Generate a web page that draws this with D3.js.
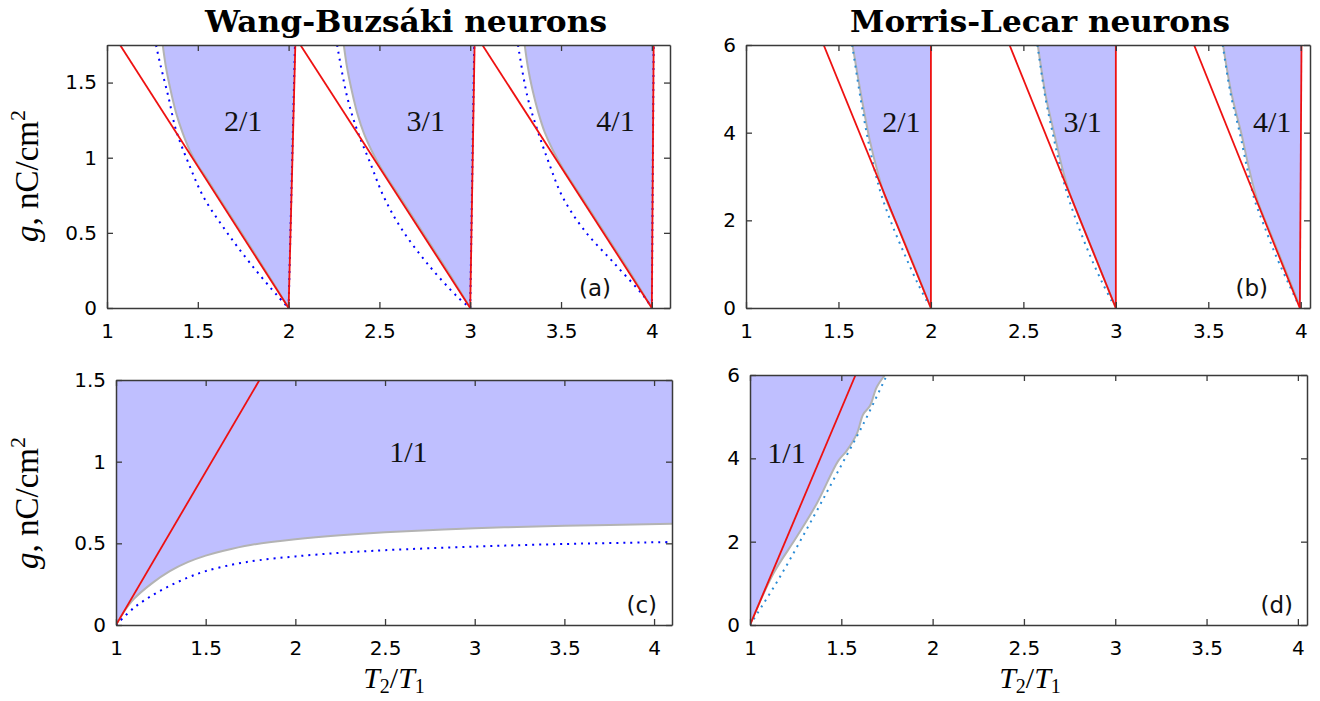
<!DOCTYPE html>
<html><head><meta charset="utf-8">
<script src="https://cdn.jsdelivr.net/npm/d3@7/dist/d3.min.js"></script>
<style>
body{margin:0;background:#fff;}
svg{display:block;}
</style></head>
<body>
<svg id="chart" width="1320" height="701"></svg>
<script>
// ---------- tick values ----------
const xTicks = [1, 1.5, 2, 2.5, 3, 3.5, 4];
const xTickLabels = ["1", "1.5", "2", "2.5", "3", "3.5", "4"];
const wbYTicks = [0, 0.5, 1, 1.5];
const wbYTickLabels = ["0", "0.5", "1", "1.5"];
const mlYTicks = [0, 2, 4, 6];
const mlYTickLabels = ["0", "2", "4", "6"];

// ---------- Wang-Buzsaki, panel (a): [T2/T1, g] ----------
const wb21Left  = [[1.307,1.75],[1.325,1.6],[1.35,1.45],[1.38,1.3],[1.415,1.17],[1.455,1.05],[1.50,0.95],[1.55,0.862],[1.608,0.75],[1.757,0.47],[1.904,0.19],[2.0,0.0]];
const wb21Right = [[2.0,0.0],[2.037,1.75]];
const wb31Left  = [[2.304,1.75],[2.322,1.6],[2.347,1.45],[2.377,1.3],[2.415,1.16],[2.46,1.04],[2.505,0.94],[2.552,0.85],[2.607,0.75],[2.756,0.47],[2.905,0.19],[3.0,0.0]];
const wb31Right = [[3.0,0.0],[3.024,1.75]];
const wb41Left  = [[3.30,1.75],[3.318,1.6],[3.343,1.45],[3.375,1.3],[3.41,1.17],[3.455,1.05],[3.51,0.93],[3.558,0.84],[3.607,0.75],[3.756,0.47],[3.905,0.19],[4.0,0.0]];
const wb41Right = [[4.0,0.0],[4.01,1.75]];
const wbRed = [
  [[1.072,1.75],[2.0,0.0]], [[2.0,0.0],[2.037,1.75]],
  [[2.065,1.75],[3.0,0.0]], [[3.0,0.0],[3.024,1.75]],
  [[3.067,1.75],[4.0,0.0]], [[4.0,0.0],[4.01,1.75]]
];
const wb21BlueL = [[1.27,1.75],[1.292,1.628],[1.338,1.406],[1.38,1.184],[1.449,0.963],[1.531,0.74],[1.651,0.519],[1.789,0.297],[1.943,0.075],[2.0,0.0]];
const wb31BlueL = [[2.267,1.75],[2.322,1.406],[2.377,1.184],[2.45,0.963],[2.524,0.74],[2.62,0.53],[2.763,0.297],[2.929,0.075],[3.0,0.0]];
const wb41BlueL = [[3.263,1.75],[3.315,1.406],[3.37,1.184],[3.434,0.963],[3.508,0.74],[3.627,0.519],[3.793,0.297],[3.958,0.075],[4.0,0.0]];
const wbBlueR = [ [[2.0,0.0],[2.035,1.75]], [[3.0,0.0],[3.022,1.75]], [[4.0,0.0],[4.01,1.75]] ];

// ---------- Morris-Lecar, panel (b) ----------
const ml21Left  = [[1.576,6],[1.624,4.82],[1.669,3.83],[1.714,3.07],[1.752,2.54],[1.853,1.55],[2.0,0.0]];
const ml21Right = [[2.0,0.0],[2.0,6]];
const ml31Left  = [[2.578,6],[2.622,4.82],[2.668,3.96],[2.71,3.2],[2.752,2.6],[2.852,1.55],[3.0,0.0]];
const ml31Right = [[3.0,0.0],[3.0,6]];
const ml41Left  = [[3.58,6],[3.625,4.9],[3.68,3.96],[3.722,3.15],[3.765,2.47],[3.852,1.55],[4.0,0.0]];
const ml41Right = [[4.0,0.0],[4.004,6]];
const mlRed = [
  [[1.42,6],[2.0,0.0]], [[2.0,0.0],[2.0,6]],
  [[2.425,6],[3.0,0.0]], [[3.0,0.0],[3.0,6]],
  [[3.423,6],[3.995,0.0]], [[3.995,0.0],[4.004,6]]
];
const ml21Blue = [[1.574,6],[1.618,4.82],[1.66,3.83],[1.70,3.07],[1.735,2.54],[1.79,1.9],[1.86,1.2],[1.93,0.55],[1.985,0.1]];
const ml31Blue = [[2.576,6],[2.618,4.82],[2.66,3.96],[2.70,3.2],[2.737,2.6],[2.79,1.95],[2.86,1.2],[2.93,0.55],[2.985,0.1]];
const ml41Blue = [[3.578,6],[3.62,4.9],[3.672,3.96],[3.712,3.15],[3.75,2.47],[3.80,1.9],[3.865,1.2],[3.935,0.55],[3.985,0.1]];

// ---------- panel (c): 1/1 WB ----------
const wb11Edge = [[1.0,0.0],[1.05,0.09],[1.1,0.16],[1.2,0.255],[1.3,0.33],[1.4,0.385],[1.5,0.425],[1.6,0.455],[1.75,0.49],[2.0,0.525],[2.25,0.55],[2.5,0.568],[3.0,0.592],[3.5,0.607],[4.1,0.62]];
const wb11Red  = [[1.0,0.0],[1.80,1.5]];
const wb11Blue = [[1.0,0.0],[1.1,0.105],[1.2,0.18],[1.3,0.24],[1.4,0.29],[1.5,0.33],[1.65,0.37],[1.8,0.397],[2.0,0.42],[2.25,0.442],[2.5,0.458],[3.0,0.48],[3.5,0.496],[4.1,0.508]];

// ---------- panel (d): 1/1 ML ----------
const ml11Edge = [[1.0,0.0],[1.128,1.235],[1.255,2.11],[1.365,2.91],[1.483,3.94],[1.529,4.18],[1.584,4.58],[1.62,5.06],[1.657,5.26],[1.693,5.70],[1.739,6]];
const ml11Red  = [[1.0,0.0],[1.578,6]];
const ml11Blue = [[1.0,0.0],[1.164,1.155],[1.347,2.59],[1.475,3.63],[1.62,4.82],[1.742,5.93]];

// ---------- styles ----------
const FILL = "#bfbfff", RED = "#ee1111", GRAY = "#b3b3b3", BLUE = "#0000ff", BLUE2 = "#2b8cd6", AXIS = "#3a3a3a";

const svg = d3.select("#chart");
let clipId = 0;

function makePanel(cfg) {
  const x = d3.scaleLinear().domain(cfg.xd).range([cfg.x0, cfg.x1]);
  const y = d3.scaleLinear().domain(cfg.yd).range([cfg.y1, cfg.y0]);
  const id = "clip" + (clipId++);
  svg.append("clipPath").attr("id", id).append("rect")
    .attr("x", cfg.x0).attr("y", cfg.y0).attr("width", cfg.x1 - cfg.x0).attr("height", cfg.y1 - cfg.y0);
  const g = svg.append("g").attr("clip-path", `url(#${id})`);
  return {x, y, g, cfg};
}

function smooth(p) { return d3.line().x(d => p.x(d[0])).y(d => p.y(d[1])).curve(d3.curveCatmullRom.alpha(0.5)); }
function straight(p) { return d3.line().x(d => p.x(d[0])).y(d => p.y(d[1])); }

function tongue(p, left, right) {
  const d = smooth(p)(left) + straight(p)(right).replace(/^M/, "L") + "Z";
  p.g.append("path").attr("d", d).attr("fill", FILL).attr("stroke", "none");
  p.g.append("path").attr("d", smooth(p)(left)).attr("fill", "none").attr("stroke", GRAY).attr("stroke-width", 2);
}
function dotted(p, pts, color, lin) {
  p.g.append("path").attr("d", (lin ? straight(p) : smooth(p))(pts)).attr("fill", "none")
    .attr("stroke", color).attr("stroke-width", 2).attr("stroke-dasharray", "2 5");
}
function redLine(p, pts) {
  p.g.append("path").attr("d", straight(p)(pts)).attr("fill", "none").attr("stroke", RED).attr("stroke-width", 1.8);
}
function axes(p, yTicks, yLabels) {
  const c = p.cfg;
  const fmtX = v => xTickLabels[xTicks.indexOf(v)];
  const fmtY = v => yLabels[yTicks.indexOf(v)];
  const style = sel => {
    sel.select(".domain").attr("stroke", AXIS).attr("stroke-width", 1.5);
    sel.selectAll(".tick line").attr("stroke", AXIS).attr("stroke-width", 1.3);
    sel.selectAll(".tick text").attr("font-family", "DejaVu Sans").attr("font-size", 20).attr("fill", "#000");
  };
  svg.append("g").attr("transform", `translate(0,${c.y1})`)
    .call(d3.axisBottom(p.x).tickValues(xTicks).tickFormat(fmtX).tickSizeInner(-6).tickSizeOuter(0).tickPadding(16))
    .call(style);
  svg.append("g").attr("transform", `translate(0,${c.y0})`)
    .call(d3.axisTop(p.x).tickValues(xTicks).tickFormat("").tickSizeInner(-6).tickSizeOuter(0))
    .call(style);
  svg.append("g").attr("transform", `translate(${c.x0},0)`)
    .call(d3.axisLeft(p.y).tickValues(yTicks).tickFormat(fmtY).tickSizeInner(-6).tickSizeOuter(0).tickPadding(10))
    .call(style);
  svg.append("g").attr("transform", `translate(${c.x1},0)`)
    .call(d3.axisRight(p.y).tickValues(yTicks).tickFormat("").tickSizeInner(-6).tickSizeOuter(0))
    .call(style);
}
function regionLabel(p, txt, xv, gv) {
  svg.append("text").attr("x", p.x(xv)).attr("y", p.y(gv)).attr("text-anchor", "middle")
    .attr("font-family", "Liberation Serif").attr("font-size", 30).attr("fill", "#111").text(txt);
}
function panelLabel(p, txt, xEnd) {
  svg.append("text").attr("x", xEnd).attr("y", p.cfg.y1 - 12).attr("text-anchor", "end")
    .attr("font-family", "DejaVu Sans").attr("font-size", 23).attr("fill", "#111").text(txt);
}

// ---------- panel (a) ----------
const pa = makePanel({x0:107, x1:670, y0:45, y1:308, xd:[1,4.1], yd:[0,1.75]});
tongue(pa, wb21Left, wb21Right); tongue(pa, wb31Left, wb31Right); tongue(pa, wb41Left, wb41Right);
dotted(pa, wb21BlueL, BLUE); dotted(pa, wb31BlueL, BLUE); dotted(pa, wb41BlueL, BLUE);
wbBlueR.forEach(s => dotted(pa, s, BLUE, true));
wbRed.forEach(s => redLine(pa, s));
axes(pa, wbYTicks, wbYTickLabels);

// ---------- panel (b) ----------
const pb = makePanel({x0:746, x1:1310, y0:45, y1:308, xd:[1,4.05], yd:[0,6]});
tongue(pb, ml21Left, ml21Right); tongue(pb, ml31Left, ml31Right); tongue(pb, ml41Left, ml41Right);
dotted(pb, ml21Blue, BLUE2); dotted(pb, ml31Blue, BLUE2); dotted(pb, ml41Blue, BLUE2);
mlRed.forEach(s => redLine(pb, s));
axes(pb, mlYTicks, mlYTickLabels);

// ---------- panel (c) ----------
const pc = makePanel({x0:116, x1:672, y0:380, y1:625, xd:[1,4.1], yd:[0,1.5]});
{
  const top = [[4.1,1.5],[1.0,1.5]];
  const d = smooth(pc)(wb11Edge) + straight(pc)(top).replace(/^M/, "L") + "Z";
  pc.g.append("path").attr("d", d).attr("fill", FILL);
  pc.g.append("path").attr("d", smooth(pc)(wb11Edge)).attr("fill", "none").attr("stroke", GRAY).attr("stroke-width", 2);
}
dotted(pc, wb11Blue, BLUE);
redLine(pc, wb11Red);
axes(pc, wbYTicks, wbYTickLabels);

// ---------- panel (d) ----------
const pd = makePanel({x0:750, x1:1307, y0:375, y1:625, xd:[1,4.05], yd:[0,6]});
{
  const top = [[1.739,6],[1.0,6]];
  const d = smooth(pd)(ml11Edge) + straight(pd)(top).replace(/^M/, "L") + "Z";
  pd.g.append("path").attr("d", d).attr("fill", FILL);
  pd.g.append("path").attr("d", smooth(pd)(ml11Edge)).attr("fill", "none").attr("stroke", GRAY).attr("stroke-width", 2);
}
dotted(pd, ml11Blue, BLUE2);
redLine(pd, ml11Red);
axes(pd, mlYTicks, mlYTickLabels);

// ---------- region labels ----------
regionLabel(pa, "2/1", 1.75, 1.18); regionLabel(pa, "3/1", 2.755, 1.18); regionLabel(pa, "4/1", 3.8, 1.18);
regionLabel(pb, "2/1", 1.84, 4.02); regionLabel(pb, "3/1", 2.82, 4.02); regionLabel(pb, "4/1", 3.845, 4.02);
regionLabel(pc, "1/1", 2.63, 1.0);
regionLabel(pd, "1/1", 1.2, 3.9);
panelLabel(pa, "(a)", 611); panelLabel(pb, "(b)", 1268); panelLabel(pc, "(c)", 657); panelLabel(pd, "(d)", 1293);

// ---------- titles ----------
svg.append("text").attr("x", 406).attr("y", 32).attr("text-anchor", "middle")
  .attr("font-family", "DejaVu Serif").attr("font-weight", "bold").attr("font-size", 29)
  .attr("textLength", 402).attr("lengthAdjust", "spacingAndGlyphs").text("Wang-Buzsáki neurons");
svg.append("text").attr("x", 1040).attr("y", 32).attr("text-anchor", "middle")
  .attr("font-family", "DejaVu Serif").attr("font-weight", "bold").attr("font-size", 29)
  .attr("textLength", 380).attr("lengthAdjust", "spacingAndGlyphs").text("Morris-Lecar neurons");

// ---------- axis labels ----------
function yLabel(cx, cy) {
  const t = svg.append("text").attr("transform", `translate(${cx},${cy}) rotate(-90)`).attr("text-anchor", "middle")
    .attr("font-family", "Liberation Serif").attr("font-size", 33).attr("fill", "#000");
  t.append("tspan").attr("font-style", "italic").text("g");
  t.append("tspan").text(", nC/cm");
  t.append("tspan").attr("font-size", 22).attr("dy", -13).text("2");
}
yLabel(38, 176); yLabel(38, 503);
function xLabel(cx, cy) {
  const t = svg.append("text").attr("x", cx).attr("y", cy).attr("text-anchor", "middle")
    .attr("font-family", "Liberation Serif").attr("font-size", 30).attr("fill", "#000");
  t.append("tspan").attr("font-style", "italic").text("T");
  t.append("tspan").attr("font-size", 20).attr("dy", 5).text("2");
  t.append("tspan").attr("dy", -5).text("/");
  t.append("tspan").attr("font-style", "italic").text("T");
  t.append("tspan").attr("font-size", 20).attr("dy", 5).text("1");
}
xLabel(394, 688); xLabel(1030, 688);
</script>
</body></html>
